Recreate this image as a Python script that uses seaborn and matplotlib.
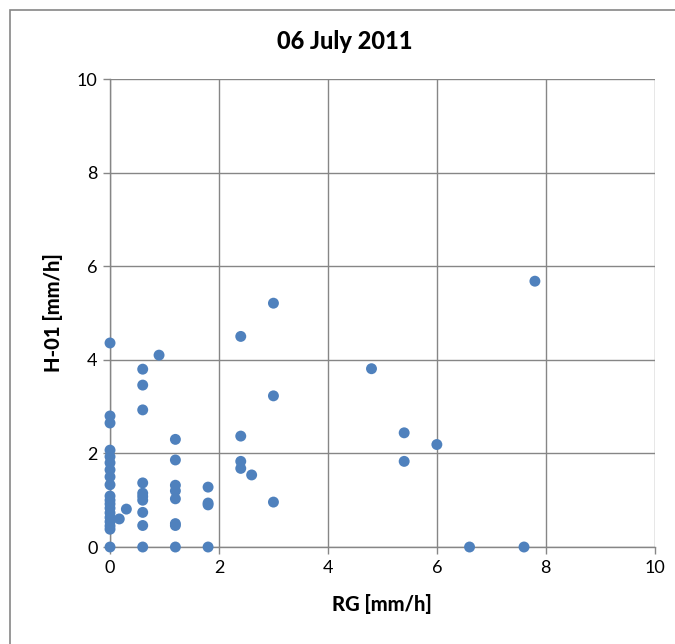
import matplotlib
matplotlib.use("Agg")
import matplotlib.pyplot as plt
import matplotlib.patches as mpatches
import seaborn as sns
import pandas as pd

title = "06 July 2011"
x_label = "RG [mm/h]"
y_label = "H-01 [mm/h]"

rg = ([0.0] * 19 + [0.17, 0.3] + [0.6] * 10 + [0.9] + [1.2] * 8 + [1.8] * 4
      + [2.4] * 4 + [2.6] + [3.0] * 3 + [4.8] + [5.4] * 2 + [6.0, 6.6, 7.6, 7.8])
h01 = ([4.36, 2.80, 2.65, 2.07, 1.93, 1.80, 1.65, 1.50, 1.33, 1.09, 1.00, 0.92,
        0.83, 0.73, 0.63, 0.54, 0.45, 0.38, 0.0]
       + [0.60, 0.81]
       + [3.80, 3.46, 2.93, 1.37, 1.15, 1.08, 1.00, 0.74, 0.46, 0.0]
       + [4.10]
       + [2.30, 1.86, 1.32, 1.20, 1.03, 0.50, 0.46, 0.0]
       + [1.28, 0.94, 0.90, 0.0]
       + [4.50, 2.37, 1.83, 1.68]
       + [1.54]
       + [5.21, 3.23, 0.96]
       + [3.81]
       + [2.44, 1.83]
       + [2.19, 0.0, 0.0, 5.68])

df = pd.DataFrame({"RG": rg, "H01": h01})

sns.set_theme(style="white")
plt.rcParams['font.family'] = ['Lato', 'DejaVu Sans']

fig = plt.figure(figsize=(6.75, 6.44), dpi=100)
ax = fig.add_axes([0.163, 0.1506, 0.807, 0.7267])

sns.scatterplot(data=df, x="RG", y="H01", ax=ax, color="#4F81BD",
                s=62, edgecolor="none", zorder=3, clip_on=False)

ax.set_xlim(0, 10)
ax.set_ylim(0, 10)
ax.set_xticks(range(0, 11, 2))
ax.set_yticks(range(0, 11, 2))
ax.grid(True, color="#868686", linewidth=1.0)
ax.set_axisbelow(True)
for side in ["top", "right"]:
    ax.spines[side].set_visible(False)
for side in ["left", "bottom"]:
    ax.spines[side].set_color("#868686")
    ax.spines[side].set_linewidth(1.0)
ax.tick_params(axis="both", which="major", length=5, width=1.0, color="#868686",
               direction="out", labelsize=13, pad=4, left=True, bottom=True,
               labelcolor="black")
ax.set_xlabel(x_label, fontsize=14.5, fontweight="black", labelpad=13, color="black")
ax.set_ylabel(y_label, fontsize=14.5, fontweight="black", labelpad=10, color="black")
fig.text(345 / 675, 0.935, title, ha="center", va="center",
         fontsize=17, fontweight="black", color="black")

border = mpatches.Rectangle((10 / 675, -10 / 644), 700 / 675, 644 / 644,
                            transform=fig.transFigure, fill=False,
                            edgecolor="#868686", linewidth=1.2)
fig.patches.append(border)

fig.savefig("out.png", dpi=100)
